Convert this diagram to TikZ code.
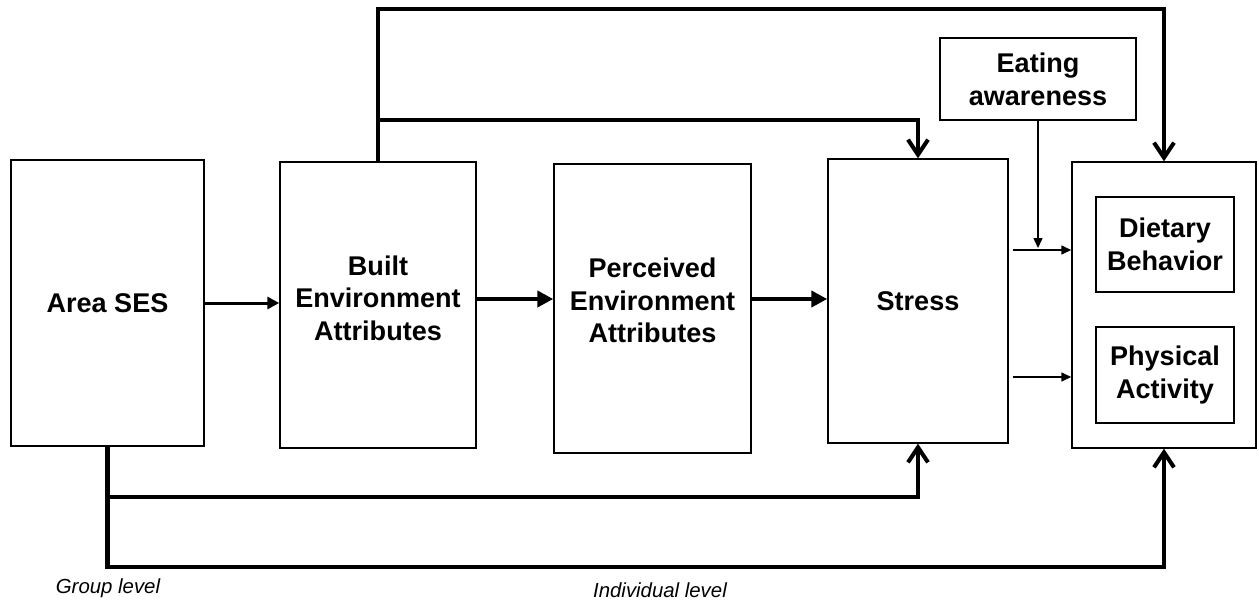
\documentclass[tikz,border=0pt]{standalone}
\usepackage{fontspec}
\setmainfont{Liberation Sans}
\usetikzlibrary{arrows.meta}

\tikzset{
    box/.style={draw, line width=0.85pt, align=center, inner sep=0pt,
        font=\fontsize{15.4}{18.6}\selectfont\bfseries},
    boxtext/.style={align=center, inner sep=0pt,
        font=\fontsize{15.4}{18.6}\selectfont\bfseries},
    levellabel/.style={font=\fontsize{11.6}{13}\selectfont\itshape},
    pathlink/.style={line width=2.3pt, -{Straight Barb[length=0.3cm,width=0.4cm]}},
    fwdlink/.style={line width=1.7pt, -{Triangle[length=0.24cm,width=0.24cm]}},
    widelink/.style={line width=2.6pt, -{Triangle[length=0.32cm,width=0.32cm]}},
    thinlink/.style={line width=0.85pt, -{Triangle[length=0.2cm,width=0.18cm]}}
}

\begin{document}
\begin{tikzpicture}[x=0.02cm, y=-0.02cm]
    \useasboundingbox (0,0) rectangle (1259,603);

    % Draw the main boxes
    \node[box, minimum width=3.86cm, minimum height=5.72cm] (ses) at (107.5,303) {Area SES};
    \node[box, minimum width=3.92cm, minimum height=5.72cm] (built) at (378,305) {};
    \node[boxtext] (builttext) at ([yshift=0.14cm]built.center) {Built\\Environment\\Attributes};
    \node[box, minimum width=3.94cm, minimum height=5.78cm] (perc) at (652.5,308.5) {};
    \node[boxtext] (perctext) at ([yshift=0.16cm]perc.center) {Perceived\\Environment\\Attributes};
    \node[box, minimum width=3.60cm, minimum height=5.68cm] (stress) at (918,301) {Stress};
    \node[box, minimum width=3.92cm, minimum height=1.64cm] (eat) at (1038,79) {Eating\\awareness};

    % Draw the outcome box and its two inner boxes
    \node[box, minimum width=3.68cm, minimum height=5.72cm] (outcome) at (1164,305) {};
    \node[box, minimum width=2.76cm, minimum height=1.90cm] (diet) at (1165,244.5) {Dietary\\Behavior};
    \node[box, minimum width=2.76cm, minimum height=1.92cm] (phys) at (1165,375) {Physical\\Activity};

    % Rows used by the connectors
    \coordinate (toprow) at (0,9);
    \coordinate (midtop) at (0,120);
    \coordinate (midrow) at (0,299);
    \coordinate (dietrow) at (0,250);
    \coordinate (physrow) at (0,377);
    \coordinate (lowA) at (0,497);
    \coordinate (lowB) at (0,567);

    % Draw the chain from left to right
    \draw[fwdlink] (ses.east) -- (ses.east -| built.west);
    \draw[widelink] (built.east |- midrow) -- (perc.west |- midrow);
    \draw[widelink] (perc.east |- midrow) -- (stress.west |- midrow);

    % Draw the links over the top
    \draw[pathlink] (built.north) -- (built.north |- toprow) -| (outcome.north);
    \draw[pathlink] (built.north |- midtop) -| (stress.north);

    % Draw the links into the outcomes
    \draw[thinlink] ([xshift=0.08cm]stress.east |- dietrow) -- (outcome.west |- dietrow);
    \draw[thinlink] ([xshift=0.08cm]stress.east |- physrow) -- (outcome.west |- physrow);
    \draw[thinlink] (eat.south) -- ([yshift=0.04cm]eat.south |- dietrow);

    % Draw the links along the bottom
    \draw[pathlink] (ses.south) -- (ses.south |- lowA) -| (stress.south);
    \draw[pathlink] (ses.south |- lowA) -- (ses.south |- lowB) -| (outcome.south);

    % Level labels
    \node[levellabel] (group) at (108,588) {Group level};
    \node[levellabel] (indiv) at (660,590) {Individual level};
\end{tikzpicture}
\end{document}
